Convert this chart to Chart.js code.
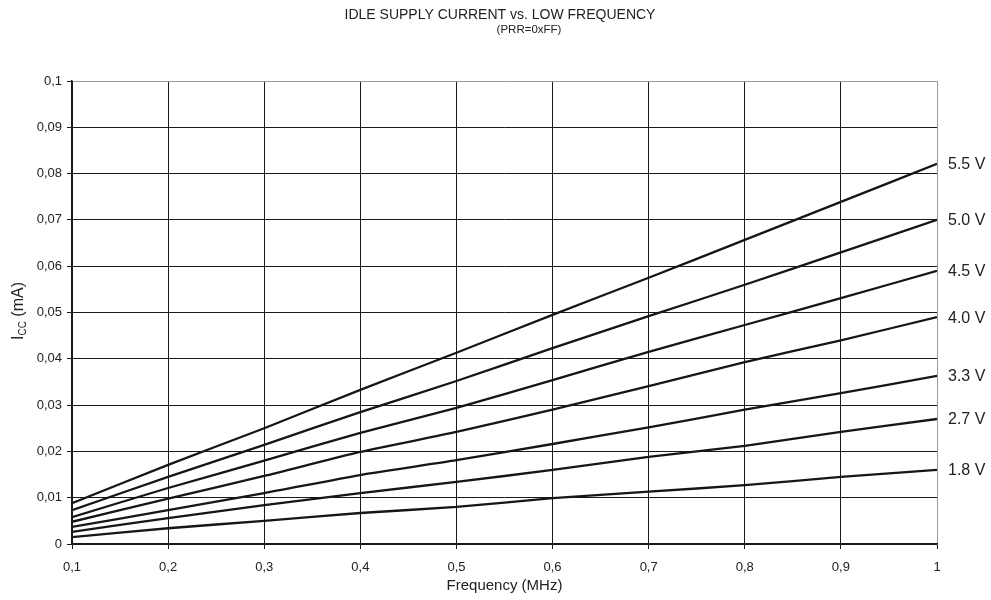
<!DOCTYPE html>
<html>
<head>
<meta charset="utf-8">
<script src="https://cdn.jsdelivr.net/npm/chart.js@4"></script>
<style>
  html, body { margin: 0; padding: 0; background: #fff; }
  #wrap { width: 991px; height: 600px; }
</style>
</head>
<body>
<div id="wrap"><canvas id="chart" width="991" height="600"></canvas></div>
<script>
// frequency in MHz
var freq = [0.1, 0.2, 0.3, 0.4, 0.5, 0.6, 0.7, 0.8, 0.9, 1.0];

// Icc in mA for each supply voltage
var v55 = [0.0088, 0.0171, 0.0250, 0.0333, 0.0413, 0.0495, 0.0575, 0.0657, 0.0739, 0.0821];
var v50 = [0.0073, 0.0145, 0.0214, 0.0285, 0.0352, 0.0423, 0.0492, 0.0560, 0.0630, 0.0700];
var v45 = [0.0058, 0.0121, 0.0180, 0.0240, 0.0294, 0.0354, 0.0415, 0.0473, 0.0531, 0.0590];
var v40 = [0.0048, 0.0098, 0.0147, 0.0199, 0.0242, 0.0290, 0.0341, 0.0393, 0.0440, 0.0490];
var v33 = [0.0037, 0.0073, 0.0110, 0.0149, 0.0181, 0.0216, 0.0252, 0.0290, 0.0326, 0.0363];
var v27 = [0.0026, 0.0056, 0.0084, 0.0110, 0.0134, 0.0160, 0.0188, 0.0212, 0.0242, 0.0270];
var v18 = [0.0015, 0.0034, 0.0050, 0.0067, 0.0080, 0.0099, 0.0113, 0.0127, 0.0145, 0.0160];

var seriesNames = ["5.5 V", "5.0 V", "4.5 V", "4.0 V", "3.3 V", "2.7 V", "1.8 V"];
var seriesData = [v55, v50, v45, v40, v33, v27, v18];

var xTicks = [0.1, 0.2, 0.3, 0.4, 0.5, 0.6, 0.7, 0.8, 0.9, 1];
var yTicks = [0, 0.01, 0.02, 0.03, 0.04, 0.05, 0.06, 0.07, 0.08, 0.09, 0.1];

var FONT = "Liberation Sans, Arial, sans-serif";

function fmt(v, d) {
  return String(Number(v.toFixed(d))).replace('.', ',');
}

var datasets = seriesData.map(function (arr, i) {
  return {
    label: seriesNames[i],
    data: arr.map(function (y, j) { return { x: freq[j], y: y }; }),
    borderColor: '#161616',
    borderWidth: 2.3,
    pointRadius: 0,
    tension: 0.2,
    fill: false
  };
});

// titles, axis names and the labels at the end of each line
var textPlugin = {
  id: 'texts',
  afterDraw: function (chart) {
    var ctx = chart.ctx;
    var area = chart.chartArea;
    ctx.save();
    ctx.fillStyle = '#222';
    ctx.textAlign = 'center';
    ctx.textBaseline = 'middle';
    ctx.font = '14px ' + FONT;
    ctx.fillText('IDLE SUPPLY CURRENT vs. LOW FREQUENCY', 500, 15);
    ctx.font = '11.5px ' + FONT;
    ctx.fillText('(PRR=0xFF)', 529, 30);

    ctx.font = '15px ' + FONT;
    ctx.fillText('Frequency (MHz)', (area.left + area.right) / 2, 586);

    // y axis name with subscript
    ctx.translate(19, 311);
    ctx.rotate(-Math.PI / 2);
    var p1 = 'I', p2 = 'CC', p3 = ' (mA)';
    ctx.font = '16px ' + FONT;
    var w1 = ctx.measureText(p1).width;
    var w3 = ctx.measureText(p3).width;
    ctx.font = '10px ' + FONT;
    var w2 = ctx.measureText(p2).width;
    var x0 = -(w1 + w2 + w3) / 2;
    ctx.textAlign = 'left';
    ctx.font = '16px ' + FONT;
    ctx.fillText(p1, x0, 0);
    ctx.font = '10px ' + FONT;
    ctx.fillText(p2, x0 + w1, 4);
    ctx.font = '16px ' + FONT;
    ctx.fillText(p3, x0 + w1 + w2, 0);
    ctx.restore();

    // voltage labels
    ctx.save();
    ctx.fillStyle = '#222';
    ctx.font = '16px ' + FONT;
    ctx.textAlign = 'left';
    ctx.textBaseline = 'middle';
    var ys = chart.scales.y;
    seriesData.forEach(function (arr, i) {
      var yy = ys.getPixelForValue(arr[arr.length - 1]);
      ctx.fillText(seriesNames[i], area.right + 11, yy + 1);
    });
    ctx.restore();
  }
};

new Chart(document.getElementById('chart'), {
  type: 'line',
  data: { datasets: datasets },
  options: {
    responsive: false,
    animation: false,
    layout: { padding: { top: 81, right: 54, left: 0, bottom: 0 } },
    plugins: {
      legend: { display: false },
      title: { display: false },
      tooltip: { enabled: false }
    },
    scales: {
      x: {
        type: 'linear',
        min: 0.1,
        max: 1,
        afterFit: function (s) { s.height = 56; },
        afterBuildTicks: function (s) {
          s.ticks = xTicks.map(function (v) { return { value: v }; });
        },
        grid: {
          color: function (c) { return c.tick && c.tick.value === 1 ? '#9a9a9a' : '#1a1a1a'; },
          lineWidth: 1,
          tickLength: 5,
          tickColor: '#1a1a1a'
        },
        border: { color: '#1a1a1a', width: 1.5 },
        ticks: {
          color: '#222',
          font: { family: FONT, size: 13 },
          padding: 11,
          maxRotation: 0,
          callback: function (v) { return fmt(v, 1); }
        }
      },
      y: {
        type: 'linear',
        min: 0,
        max: 0.1,
        afterFit: function (s) { s.width = 72; },
        afterBuildTicks: function (s) {
          s.ticks = yTicks.map(function (v) { return { value: v }; });
        },
        grid: {
          color: function (c) { return c.tick && c.tick.value === 0.1 ? '#9a9a9a' : '#1a1a1a'; },
          lineWidth: 1,
          tickLength: 5,
          tickColor: '#1a1a1a'
        },
        border: { color: '#1a1a1a', width: 1.5 },
        ticks: {
          color: '#222',
          font: { family: FONT, size: 13 },
          padding: 5,
          callback: function (v) { return fmt(v, 2); }
        }
      }
    }
  },
  plugins: [textPlugin]
});
</script>
</body>
</html>
